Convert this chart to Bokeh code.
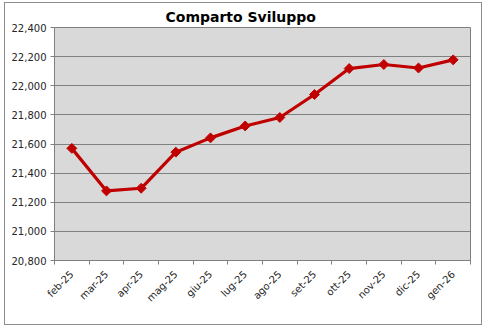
import math
from bokeh.plotting import figure
from bokeh.models import Range1d, FixedTicker, NumeralTickFormatter, ColumnDataSource
from bokeh.embed import file_html
from bokeh.resources import INLINE

months = ["feb-25", "mar-25", "apr-25", "mag-25", "giu-25", "lug-25",
          "ago-25", "set-25", "ott-25", "nov-25", "dic-25", "gen-26"]
values = [21570, 21278, 21296, 21544, 21642, 21724, 21782, 21940, 22118, 22146, 22122, 22178]
y_ticks = [20800, 21000, 21200, 21400, 21600, 21800, 22000, 22200, 22400]

FONT = "DejaVu Sans"
n = len(months)
centers = [i + 0.5 for i in range(n)]  # category slots on a numeric axis

p = figure(width=476, height=321, x_range=Range1d(0, n), y_range=Range1d(20800, 22400),
           output_backend="svg", toolbar_location=None, title="Comparto Sviluppo")
p.styles = {"margin-left": "5px", "margin-top": "3px", "outline": "1px solid #8c8c8c"}
p.min_border_left = 49
p.min_border_right = 11
p.min_border_top = 24
p.min_border_bottom = 64
p.background_fill_color = "#d9d9d9"
p.border_fill_color = "white"
p.outline_line_color = "#808080"
p.outline_line_width = 1

p.title.text_font = FONT
p.title.text_font_size = "14px"
p.title.text_font_style = "bold"
p.title.align = "left"
p.title.offset = 111
p.title.text_color = "black"
p.title.standoff = 6

p.yaxis.ticker = FixedTicker(ticks=y_ticks)
p.yaxis.formatter = NumeralTickFormatter(format="0,0")
p.yaxis.major_label_text_font = FONT
p.yaxis.major_label_text_font_size = "10px"
p.yaxis.major_label_text_color = "#262626"
p.yaxis.axis_line_color = "#808080"
p.yaxis.major_tick_line_color = "#808080"
p.yaxis.major_tick_in = 0
p.yaxis.major_tick_out = 4
p.yaxis.minor_tick_line_color = None
p.yaxis.major_label_standoff = 4
p.ygrid.ticker = FixedTicker(ticks=y_ticks)
p.ygrid.grid_line_color = "#808080"
p.ygrid.grid_line_width = 1
p.xgrid.visible = False

xax = p.xaxis[0]
xax.ticker = FixedTicker(ticks=centers, minor_ticks=list(range(n + 1)))
xax.major_label_overrides = {c: m for c, m in zip(centers, months)}
xax.major_label_orientation = math.pi / 4
xax.major_label_text_font = FONT
xax.major_label_text_font_size = "10px"
xax.major_label_text_color = "#262626"
xax.major_tick_line_color = None
xax.minor_tick_line_color = "#808080"
xax.minor_tick_in = 0
xax.minor_tick_out = 4
xax.axis_line_color = "#808080"
xax.major_label_standoff = 6

src = ColumnDataSource(dict(x=centers, y=values, m=months))
p.line("x", "y", source=src, line_color="#c00000", line_width=3.2)
p.scatter("x", "y", source=src, marker="square", size=7, angle=math.pi / 4,
          fill_color="#c00000", line_color="#c00000", line_width=1)

open("out.html", "w").write(file_html(p, INLINE))
